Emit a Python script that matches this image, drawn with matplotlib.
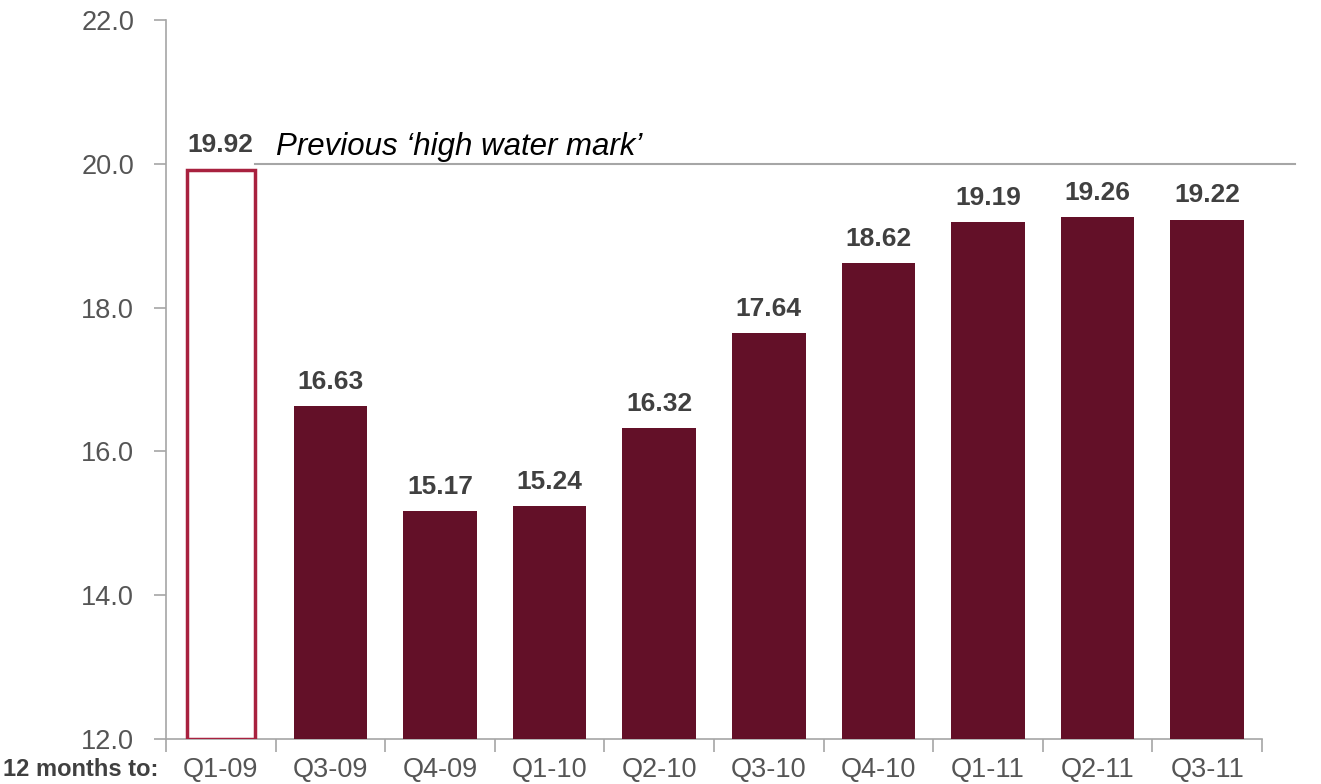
import matplotlib
matplotlib.use("Agg")
import matplotlib.pyplot as plt
import numpy as np

plt.rcParams.update({"font.family": ["Liberation Sans", "DejaVu Sans"]})

categories = ["Q1-09", "Q3-09", "Q4-09", "Q1-10", "Q2-10", "Q3-10", "Q4-10", "Q1-11", "Q2-11", "Q3-11"]
values = [19.92, 16.63, 15.17, 15.24, 16.32, 17.64, 18.62, 19.19, 19.26, 19.22]
yticks = [12.0, 14.0, 16.0, 18.0, 20.0, 22.0]
high_water = 20.0

MAROON, CRIMSON, GREY, TXT = "#631028", "#a8213f", "#a6a6a6", "#404040"

fig = plt.figure(figsize=(13.21, 7.84), dpi=100)
fig.patch.set_facecolor("white")

ax = fig.add_axes([166/1321, 1-739/784, (1262-166)/1321, (739-20)/784])
x = np.arange(len(categories))

ax.bar(x[1:], values[1:], width=0.67, color=MAROON, zorder=3)
ax.bar(x[0], values[0] - 12, bottom=12, width=0.62, facecolor="white", edgecolor=CRIMSON, lw=2.5, zorder=3)

for xi, v in zip(x, values):
    ax.annotate(f"{v:.2f}", (xi, v), xytext=(0, 9), textcoords="offset points", ha="center", va="bottom",
                fontsize=19, weight="bold", color=TXT, zorder=4)

# high water mark line, running past the axes
ax.plot([x[0] + 0.31, len(categories) - 0.5 + 0.3], [high_water, high_water], color=GREY, lw=1.5,
        clip_on=False, zorder=2)
ax.text(0.5, high_water + 0.02, "Previous \u2018high water mark\u2019", fontsize=22.5, style="italic",
        color="black", ha="left", va="bottom")

ax.set_xlim(-0.5, len(categories) - 0.5)
ax.set_ylim(12, 22)
ax.set_yticks(yticks)
ax.set_yticklabels([f"{t:.1f}" for t in yticks], fontsize=19.5, color="#555555")
ax.set_xticks(x)
ax.set_xticklabels(categories, fontsize=19.5, color="#555555")
ax.set_xticks(np.arange(-0.5, len(categories), 1), minor=True)
ax.tick_params(axis="x", which="major", length=0, pad=13)
ax.tick_params(axis="x", which="minor", length=9, color=GREY, width=1.2, direction="out")
ax.tick_params(axis="y", length=9, color=GREY, width=1.2, pad=14)
for s in ["top", "right"]:
    ax.spines[s].set_visible(False)
for s in ["left", "bottom"]:
    ax.spines[s].set_color(GREY)
    ax.spines[s].set_linewidth(1.2)

fig.text(3/1321, 1-770/784, "12 months to:", fontsize=17, weight="bold", color=TXT, ha="left", va="center")

fig.savefig("out.png", dpi=100)
